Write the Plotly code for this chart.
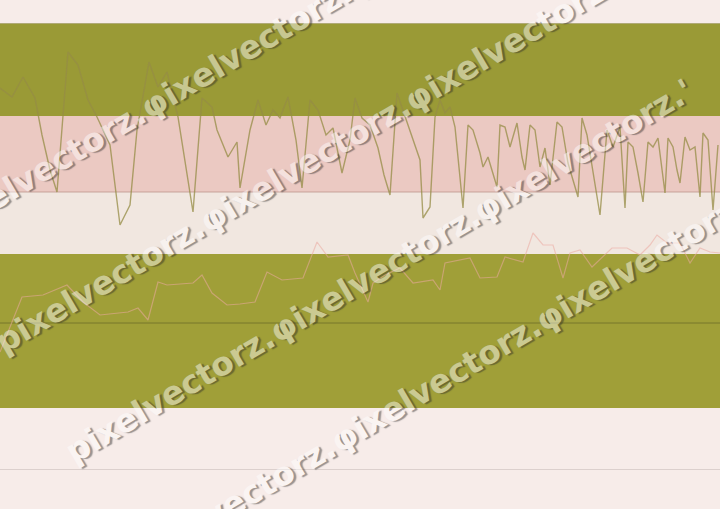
import math
import plotly.graph_objects as go

# ---- data (values on a 0..447 scale) ----
upper_x = [0, 12, 23, 35, 42, 50, 57, 62, 68, 78, 88, 97, 110, 120, 130, 137, 149, 158, 167, 178,
           193, 202, 212, 217, 228, 237, 240, 250, 258, 266, 273, 280, 288, 296, 302, 310, 318, 326,
           333, 342, 350, 355, 362, 370, 378, 384, 390, 397, 405, 412, 420, 423, 430, 435, 440, 445,
           450, 455, 463, 468, 473, 480, 483, 488, 497, 500, 505, 510, 517, 522, 525, 530, 535, 540,
           545, 550, 557, 562, 568, 578, 582, 587, 593, 600, 607, 613, 620, 625, 628, 633, 638, 643,
           648, 653, 658, 665, 668, 673, 677, 680, 685, 690, 695, 700, 703, 708, 713, 718]
upper_y = [382, 373, 393, 372, 335, 300, 278, 340, 418, 405, 370, 353, 325, 245, 265, 340, 408, 383, 398, 353,
           258, 372, 363, 340, 313, 328, 282, 340, 370, 345, 360, 352, 373, 330, 282, 370, 360, 335,
           342, 297, 330, 372, 352, 345, 322, 295, 275, 377, 353, 333, 310, 252, 263, 353, 370, 357,
           363, 343, 262, 345, 340, 317, 303, 313, 283, 345, 343, 323, 347, 313, 300, 345, 340, 303,
           322, 285, 348, 343, 307, 273, 352, 335, 300, 255, 340, 323, 343, 262, 328, 323, 297, 268,
           328, 323, 332, 277, 332, 323, 300, 287, 333, 320, 323, 273, 337, 330, 260, 325]

lower_x = [0, 22, 43, 67, 83, 100, 128, 138, 148, 158, 167, 193, 202, 212, 227, 240, 255, 267, 282, 303,
           317, 328, 348, 355, 368, 373, 385, 400, 413, 433, 440, 445, 470, 480, 497, 505, 523, 533,
           543, 553, 563, 570, 580, 592, 612, 627, 640, 650, 657, 667, 680, 690, 700, 710, 720]
lower_y = [118, 173, 175, 185, 168, 155, 158, 162, 150, 188, 185, 187, 195, 177, 165, 166, 168, 198, 190, 192,
           228, 213, 215, 197, 168, 187, 195, 202, 187, 190, 180, 207, 212, 192, 193, 213, 208, 237,
           225, 225, 192, 217, 220, 203, 222, 222, 215, 225, 235, 227, 227, 207, 222, 218, 217]

band_low = [354, 278, 216, 62, 0]
band_high = [447, 354, 278, 216, 62]
band_colors = ["#9a9a36", "#ebc9c2", "#f1e7e0", "#a09f38", "#f7ece9"]

watermark_first = "pixelvectorz."
watermark_next = "φixelvectorz."

W, H = 720, 509
T, B = 23, 39
PH = H - T - B

fig = go.Figure()
fig.add_trace(go.Scatter(x=lower_x, y=lower_y, mode="lines",
                         line=dict(color="rgba(235,170,160,0.55)", width=1.2), hoverinfo="skip"))
fig.add_trace(go.Scatter(x=upper_x, y=upper_y, mode="lines",
                         line=dict(color="rgba(150,140,70,0.75)", width=1.4), hoverinfo="skip"))

shapes = []
for lo, hi, c in zip(band_low, band_high, band_colors):
    shapes.append(dict(type="rect", xref="paper", x0=0, x1=1, yref="y", y0=lo, y1=hi,
                       fillcolor=c, line=dict(width=0), layer="below"))
for yv, col in [(447, "#c6bab6"), (0, "#c0b4b0"), (147, "#77772a"), (278, "rgba(190,150,140,0.8)")]:
    shapes.append(dict(type="line", xref="paper", x0=0, x1=1, yref="y", y0=yv, y1=yv,
                       line=dict(color=col, width=1), layer="below"))

# watermark rows: start point (pixels) of the first word, number of words
ang = 30.5
U = 238.0
dx, dy = math.cos(math.radians(ang)), -math.sin(math.radians(ang))
rows = [((-62, 231), 3, ""), ((-3, 345), 4, ""), ((67, 455), 3, "'"), ((128, 565), 3, "")]
annotations = []
for (sx, sy), n, tail in rows:
    for k in range(n):
        txt = watermark_first if k == 0 else watermark_next
        cx = sx + (k + 0.5) * U * dx
        cy = sy + (k + 0.5) * U * dy
        if k == n - 1 and tail:
            txt = txt + tail
            cx += 4 * dx
            cy += 4 * dy
        annotations.append(dict(
            text=txt, xref="paper", yref="paper",
            x=cx / W, y=(H - B - cy) / PH, xanchor="center", yanchor="middle",
            showarrow=False, textangle=-ang, opacity=0.45,
            font=dict(family="DejaVu Sans", size=32.5, weight="bold", color="#ffffff",
                      shadow="2px 2px 1px rgb(40,40,40)"),
        ))

fig.update_layout(
    width=W, height=H, margin=dict(l=0, r=0, t=T, b=B),
    paper_bgcolor="#f7ece9", plot_bgcolor="#f7ece9",
    showlegend=False, shapes=shapes, annotations=annotations,
    xaxis=dict(range=[0, 720], visible=False, fixedrange=True),
    yaxis=dict(range=[0, 447], visible=False, fixedrange=True),
)
fig.write_html("out.html", config={"displayModeBar": False},
               post_script="document.body.style.margin='0';document.body.style.overflow='hidden';")
